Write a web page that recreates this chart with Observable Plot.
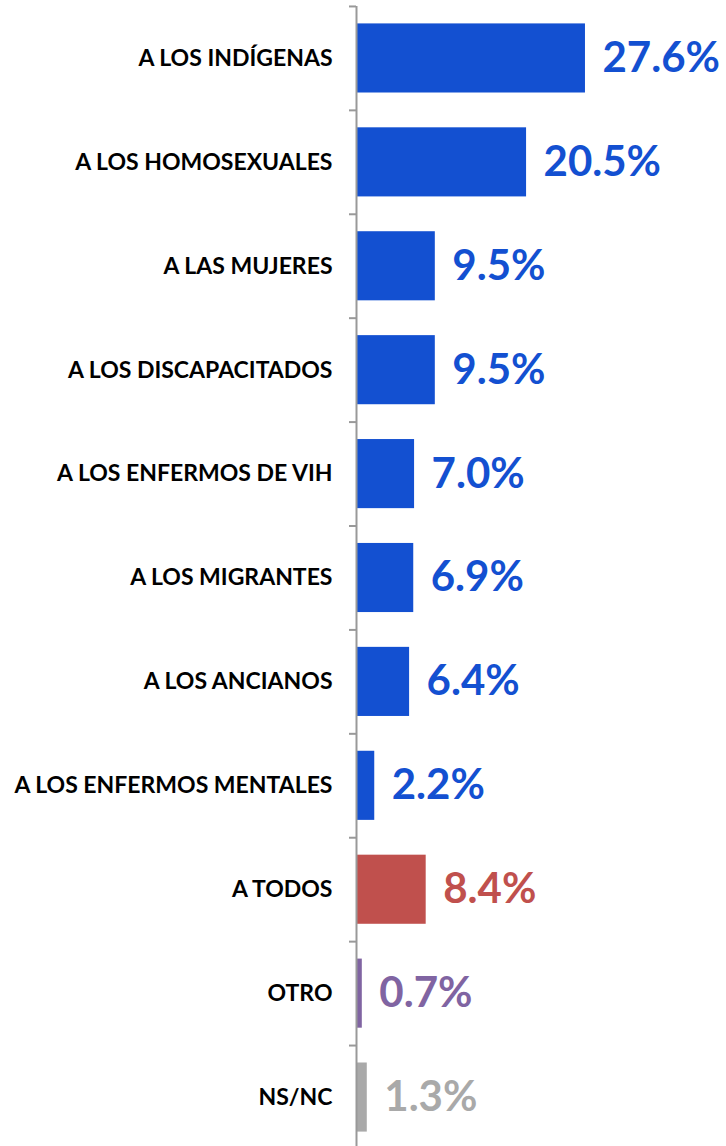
<!DOCTYPE html>
<html>
<head>
<meta charset="utf-8">
<script src="https://cdn.jsdelivr.net/npm/d3@7"></script>
<script src="https://cdn.jsdelivr.net/npm/@observablehq/plot@0.6"></script>
<style>
  html, body { margin: 0; padding: 0; background: #fff; }
  #chart svg { display: block; }
</style>
</head>
<body>
<div id="chart"></div>
<script>
const categories = [
  "A LOS INDÍGENAS",
  "A LOS HOMOSEXUALES",
  "A LAS MUJERES",
  "A LOS DISCAPACITADOS",
  "A LOS ENFERMOS DE VIH",
  "A LOS MIGRANTES",
  "A LOS ANCIANOS",
  "A LOS ENFERMOS MENTALES",
  "A TODOS",
  "OTRO",
  "NS/NC"
];
const values = [27.6, 20.5, 9.5, 9.5, 7.0, 6.9, 6.4, 2.2, 8.4, 0.7, 1.3];
const groups = ["grupo", "grupo", "grupo", "grupo", "grupo", "grupo", "grupo", "grupo", "todos", "otro", "nsnc"];
const groupNames = ["grupo", "todos", "otro", "nsnc"];
const groupColors = ["#1350D1", "#C0504D", "#8064A2", "#A9A9A9"];

const data = categories.map((c, i) => ({category: c, value: values[i], group: groups[i]}));

const chart = Plot.plot({
  width: 726,
  height: 1146,
  marginLeft: 356,
  marginRight: 0,
  marginTop: 6,
  marginBottom: -3,
  style: {fontFamily: "Lato, 'DejaVu Sans', sans-serif", background: "#fff"},
  x: {domain: [0, 44.6], axis: null},
  y: {domain: categories, paddingInner: 0.335, paddingOuter: 0.1675, round: false, label: null, axis: null},
  color: {domain: groupNames, range: groupColors},
  marks: [
    Plot.axisY({tickSize: 0, tickPadding: 24, fontSize: 23, fontWeight: 700, fill: "#000", label: null}),
    Plot.axisY({tickSize: 7, tickFormat: () => "", dy: -52, stroke: "#999", strokeWidth: 2, label: null}),
    Plot.barX(data, {x: "value", y: "category", fill: "group"}),
    Plot.text(data, {
      x: "value", y: "category", fill: "group",
      text: d => d.value.toFixed(1) + "%",
      textAnchor: "start", dx: 17, fontSize: 42, fontWeight: 700
    }),
    Plot.ruleX([0], {stroke: "#999", strokeWidth: 2})
  ]
});
document.getElementById("chart").appendChild(chart);
</script>
</body>
</html>
